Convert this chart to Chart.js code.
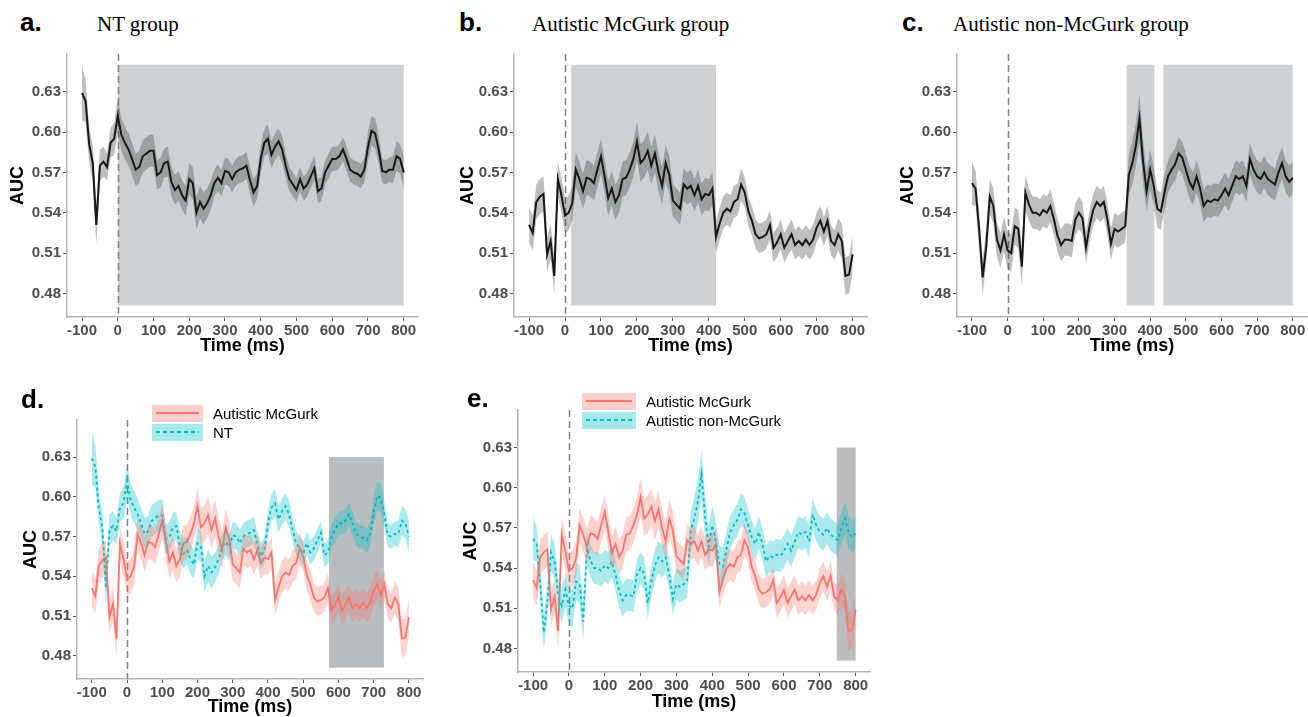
<!DOCTYPE html>
<html>
<head>
<meta charset="utf-8">
<script src="https://cdn.jsdelivr.net/npm/chart.js@4.4.1/dist/chart.umd.min.js"></script>
<style>
  body { margin: 0; width: 1308px; height: 717px; overflow: hidden; background: #fff; position: relative;
         font-family: "Liberation Sans", Arial, sans-serif; }
  canvas { position: absolute; }
  .lab { position: absolute; font-weight: bold; font-size: 26px; line-height: 26px; color: #000; z-index: 2; }
  .ttl { position: absolute; font-family: "Liberation Serif", "Times New Roman", serif; font-size: 21px; line-height: 21px; color: #000; z-index: 2; }
  .leg { position: absolute; font-size: 15px; z-index: 3; }
  .leg .row { display: flex; align-items: center; height: 17px; margin-bottom: 2px; }
  .key { height: 17px; position: relative; margin-right: 10px; }
  .key i { position: absolute; left: 4px; right: 4px; top: 7px; height: 2px; }
</style>
</head>
<body>
<div class="lab" style="left:20px;top:9px">a.</div>
<div class="ttl" style="left:97px;top:14px">NT group</div>
<div class="lab" style="left:459px;top:9px">b.</div>
<div class="ttl" style="left:532px;top:14px">Autistic McGurk group</div>
<div class="lab" style="left:902px;top:9px">c.</div>
<div class="ttl" style="left:953px;top:14px">Autistic non-McGurk group</div>
<div class="lab" style="left:21px;top:386px">d.</div>
<div class="lab" style="left:467px;top:385px">e.</div>

<div class="leg" style="left:152px;top:405px">
  <div class="row"><div class="key" style="width:51px;background:rgba(248,118,109,0.35)"><i style="background:#F8766D"></i></div>Autistic McGurk</div>
  <div class="row"><div class="key" style="width:51px;background:rgba(0,191,196,0.35)"><i style="background:repeating-linear-gradient(90deg,#00BFC4 0 4px,transparent 4px 7px)"></i></div>NT</div>
</div>
<div class="leg" style="left:582px;top:393px">
  <div class="row"><div class="key" style="width:54px;background:rgba(248,118,109,0.35)"><i style="background:#F8766D"></i></div>Autistic McGurk</div>
  <div class="row"><div class="key" style="width:54px;background:rgba(0,191,196,0.35)"><i style="background:repeating-linear-gradient(90deg,#00BFC4 0 4px,transparent 4px 7px)"></i></div>Autistic non-McGurk</div>
</div>

<canvas id="ca"></canvas>
<canvas id="cb"></canvas>
<canvas id="cc"></canvas>
<canvas id="cd"></canvas>
<canvas id="ce"></canvas>

<script>
// time points, -100 .. 800 ms every 10 ms
const times = [];
for (let t = -100; t <= 800; t += 10) times.push(t);

const xTicks = [-100, 0, 100, 200, 300, 400, 500, 600, 700, 800];
const yTicks = [0.48, 0.51, 0.54, 0.57, 0.60, 0.63];

// mean AUC per group
const ntMean = [
  0.629,0.623,0.591,0.577,0.531,0.575,0.578,0.574,0.592,0.595,
  0.612,0.598,0.592,0.587,0.580,0.572,0.574,0.582,0.584,0.586,
  0.586,0.568,0.570,0.577,0.578,0.563,0.557,0.560,0.553,0.549,
  0.565,0.562,0.540,0.548,0.543,0.547,0.553,0.562,0.566,0.562,
  0.571,0.570,0.565,0.570,0.572,0.573,0.575,0.564,0.555,0.560,
  0.580,0.592,0.595,0.583,0.589,0.593,0.587,0.575,0.565,0.561,
  0.557,0.565,0.558,0.561,0.567,0.573,0.556,0.558,0.570,0.575,
  0.580,0.580,0.582,0.587,0.580,0.572,0.570,0.569,0.567,0.572,
  0.589,0.601,0.599,0.587,0.571,0.570,0.572,0.572,0.582,0.580,
  0.570
];
const ntSe = [
  .020,.016,.013,.013,.014,.012,.011,.010,.011,.012,
  .013,.012,.012,.012,.012,.012,.012,.012,.012,.012,
  .012,.011,.011,.011,.011,.011,.011,.011,.011,.011,
  .012,.012,.012,.012,.012,.011,.011,.010,.010,.010,
  .010,.010,.010,.010,.010,.010,.010,.010,.010,.010,
  .010,.010,.011,.010,.010,.010,.010,.009,.009,.009,
  .009,.009,.009,.009,.009,.009,.009,.009,.009,.009,
  .009,.009,.009,.009,.009,.009,.009,.009,.009,.009,
  .011,.011,.011,.010,.009,.009,.009,.010,.011,.011,
  .012
];

const mcgMean = [
  0.531,0.525,0.548,0.552,0.554,0.509,0.519,0.493,0.565,0.553,
  0.538,0.540,0.547,0.572,0.565,0.556,0.566,0.565,0.562,0.572,
  0.582,0.567,0.551,0.558,0.548,0.553,0.565,0.566,0.572,0.580,
  0.593,0.577,0.580,0.586,0.575,0.584,0.570,0.560,0.577,0.568,
  0.549,0.546,0.543,0.561,0.558,0.560,0.553,0.560,0.550,0.554,
  0.553,0.558,0.522,0.532,0.540,0.543,0.541,0.548,0.550,0.561,
  0.555,0.541,0.534,0.524,0.521,0.522,0.524,0.531,0.514,0.518,
  0.524,0.514,0.519,0.524,0.516,0.519,0.516,0.520,0.516,0.520,
  0.529,0.534,0.526,0.534,0.519,0.516,0.524,0.519,0.493,0.494,
  0.509
];
const mcgSe = [
  .013,.013,.013,.013,.013,.013,.013,.013,.013,.013,
  .013,.013,.013,.013,.013,.013,.013,.013,.013,.013,
  .013,.013,.013,.013,.013,.013,.013,.013,.013,.013,
  .014,.014,.014,.014,.014,.014,.014,.014,.014,.014,
  .012,.012,.012,.012,.012,.012,.012,.012,.012,.012,
  .012,.012,.012,.012,.012,.012,.012,.012,.012,.012,
  .011,.011,.011,.011,.011,.011,.011,.011,.011,.011,
  .011,.011,.011,.011,.011,.011,.011,.011,.011,.011,
  .011,.011,.011,.011,.011,.011,.012,.013,.014,.014,
  .014
];

const nonMean = [
  0.562,0.558,0.528,0.492,0.515,0.552,0.545,0.520,0.512,0.524,
  0.512,0.510,0.530,0.528,0.500,0.555,0.546,0.540,0.540,0.538,
  0.542,0.540,0.545,0.535,0.523,0.516,0.520,0.520,0.519,0.535,
  0.540,0.536,0.514,0.530,0.542,0.548,0.545,0.548,0.535,0.517,
  0.528,0.526,0.528,0.530,0.568,0.577,0.590,0.610,0.578,0.556,
  0.572,0.560,0.543,0.541,0.555,0.567,0.572,0.576,0.584,0.581,
  0.572,0.563,0.558,0.567,0.558,0.545,0.549,0.548,0.550,0.549,
  0.553,0.558,0.553,0.560,0.567,0.565,0.567,0.560,0.580,0.572,
  0.567,0.565,0.570,0.565,0.563,0.561,0.570,0.577,0.567,0.563,
  0.566
];
const nonSe = [
  .016,.013,.013,.013,.013,.013,.013,.013,.013,.013,
  .014,.014,.014,.014,.014,.013,.012,.012,.012,.012,
  .012,.012,.012,.012,.012,.012,.012,.012,.012,.012,
  .012,.012,.012,.012,.012,.012,.012,.012,.012,.012,
  .012,.012,.012,.012,.015,.016,.016,.018,.016,.015,
  .015,.014,.014,.014,.013,.012,.012,.012,.012,.012,
  .012,.012,.012,.012,.012,.012,.012,.012,.012,.012,
  .012,.012,.012,.012,.012,.012,.012,.012,.012,.012,
  .012,.012,.012,.012,.012,.012,.012,.012,.012,.012,
  .012
];

// significant windows (ms)
const sigA = [[0, 800]];
const sigB = [[17, 420]];
const sigC = [[334, 412], [437, 800]];
const sigD = [[573, 729]];
const sigE = [[747, 800]];

Chart.defaults.font.family = '"Liberation Sans", Arial, sans-serif';

const grey = { line: '#000', band: 'rgba(70,70,70,0.35)', dash: [] };
const red  = { line: '#F8766D', band: 'rgba(248,118,109,0.33)', dash: [] };
const cyan = { line: '#00BFC4', band: 'rgba(0,191,196,0.33)', dash: [3, 3] };

function bands(mean, se, st) {
  const up = times.map((t, i) => ({ x: t, y: mean[i] + se[i] }));
  const lo = times.map((t, i) => ({ x: t, y: mean[i] - se[i] }));
  return [
    { data: up, borderWidth: 0, pointRadius: 0, fill: '+1', backgroundColor: st.band },
    { data: lo, borderWidth: 0, pointRadius: 0, fill: false }
  ];
}
function line(mean, st) {
  return { data: times.map((t, i) => ({ x: t, y: mean[i] })), borderColor: st.line, borderWidth: st.line === '#000' ? 2 : 1.8,
           borderDash: st.dash, pointRadius: 0, fill: false, tension: 0 };
}

const shade = {
  id: 'shade',
  beforeDatasetsDraw(chart, args, o) {
    const { ctx, chartArea, scales: { x, y } } = chart;
    ctx.save();
    ctx.fillStyle = o.color;
    o.spans.forEach(([a, b]) => {
      const x0 = x.getPixelForValue(a), x1 = x.getPixelForValue(b);
      const y0 = y.getPixelForValue(o.top), y1 = y.getPixelForValue(0.471);
      ctx.fillRect(x0, y0, x1 - x0, y1 - y0);
    });
    const xz = Math.round(x.getPixelForValue(0)) + 0.5;
    ctx.strokeStyle = '#808080';
    ctx.lineWidth = 1.5;
    ctx.setLineDash([7, 4]);
    ctx.beginPath();
    ctx.moveTo(xz, chartArea.top);
    ctx.lineTo(xz, chartArea.bottom);
    ctx.stroke();
    ctx.restore();
  }
};

function makePanel(id, p) {
  const cv = document.getElementById(id);
  cv.width = p.w; cv.height = p.h;
  cv.style.left = p.left + 'px'; cv.style.top = p.top + 'px';
  const tickFont = { size: 15, weight: 'bold' };
  const titleFont = { size: 18, weight: 'bold' };
  new Chart(cv, {
    type: 'line',
    data: { datasets: p.datasets },
    options: {
      responsive: false, animation: false, devicePixelRatio: 1,
      layout: { padding: { top: 6, right: p.pr, left: 0, bottom: 0 } },
      plugins: { legend: { display: false }, tooltip: { enabled: false },
                 shade: { spans: p.spans, top: p.shadeTop, color: p.shadeColor } },
      scales: {
        x: {
          type: 'linear', min: -142, max: 840,
          afterBuildTicks: s => { s.ticks = xTicks.map(v => ({ value: v })); },
          afterFit: s => { s.height = p.xh; },
          grid: { drawOnChartArea: false, drawTicks: true, tickLength: 4, color: '#555' },
          border: { color: '#b5b5b5', width: 1.5 },
          ticks: { color: '#4d4d4d', font: tickFont, padding: 1, maxRotation: 0, autoSkip: false, callback: v => String(v) },
          title: { display: true, text: 'Time (ms)', color: '#000', font: titleFont, padding: 0 }
        },
        y: {
          min: 0.4625, max: 0.658,
          afterBuildTicks: s => { s.ticks = yTicks.map(v => ({ value: v })); },
          afterFit: s => { s.width = p.yw; },
          grid: { drawOnChartArea: false, drawTicks: true, tickLength: 4, color: '#555' },
          border: { color: '#b5b5b5', width: 1.5 },
          ticks: { color: '#4d4d4d', font: tickFont, padding: 2, callback: v => v.toFixed(2) },
          title: { display: true, text: 'AUC', color: '#000', font: titleFont, padding: 0 }
        }
      }
    },
    plugins: [shade]
  });
}

const lightShade = '#cdd1d3';
const darkShade = '#b9bdbf';

makePanel('ca', { left: 7, top: 43, w: 415, h: 314, yw: 60, xh: 40, pr: 4, spans: sigA, shadeTop: 0.65, shadeColor: lightShade,
  datasets: [...bands(ntMean, ntSe, grey), line(ntMean, grey)] });
makePanel('cb', { left: 457, top: 43, w: 414, h: 314, yw: 57, xh: 40, pr: 4, spans: sigB, shadeTop: 0.65, shadeColor: lightShade,
  datasets: [...bands(mcgMean, mcgSe, grey), line(mcgMean, grey)] });
makePanel('cc', { left: 897, top: 43, w: 411, h: 314, yw: 60, xh: 40, pr: 1, spans: sigC, shadeTop: 0.65, shadeColor: lightShade,
  datasets: [...bands(nonMean, nonSe, grey), line(nonMean, grey)] });
makePanel('cd', { left: 20, top: 409, w: 407, h: 309, yw: 57, xh: 39, pr: 4, spans: sigD, shadeTop: 0.63, shadeColor: darkShade,
  datasets: [...bands(mcgMean, mcgSe, red), ...bands(ntMean, ntSe, cyan), line(mcgMean, red), line(ntMean, cyan)] });
makePanel('ce', { left: 460, top: 399, w: 414, h: 314, yw: 58, xh: 41, pr: 4, spans: sigE, shadeTop: 0.63, shadeColor: darkShade,
  datasets: [...bands(mcgMean, mcgSe, red), ...bands(nonMean, nonSe, cyan), line(mcgMean, red), line(nonMean, cyan)] });
</script>
</body>
</html>
